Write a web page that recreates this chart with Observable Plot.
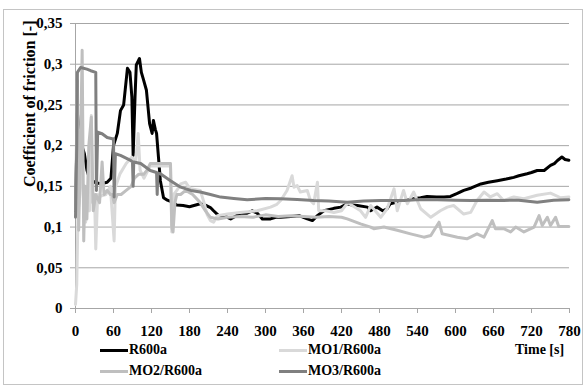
<!DOCTYPE html>
<html>
<head>
<meta charset="utf-8">
<script src="https://cdn.jsdelivr.net/npm/d3@7"></script>
<script src="https://cdn.jsdelivr.net/npm/@observablehq/plot@0.6"></script>
<style>
  html, body { margin: 0; padding: 0; background: #fff; }
  body { width: 585px; height: 387px; position: relative; overflow: hidden;
         font-family: "Liberation Serif", "Times New Roman", serif; font-weight: bold; }
  #frame { position: absolute; left: 3px; top: 9px; width: 580px; height: 376px;
           border: 1px solid #c4c4c4; box-sizing: border-box; }
  #chart { position: absolute; left: 0; top: 0; }
  #chart svg text { fill: #000; font-family: "Liberation Serif", "Times New Roman", serif !important; font-weight: bold; }
  .leg { position: absolute; font-size: 14px; line-height: 16px; color: #000; white-space: nowrap; }
  .sw { position: absolute; height: 3px; width: 28px; }
</style>
</head>
<body>
<div id="frame"></div>
<div id="chart"></div>
<script>
// ---- data (time [s], coefficient of friction [-]) ----
const seriesNames = ["R600a", "MO1/R600a", "MO2/R600a", "MO3/R600a"];
const seriesColors = ["#000000", "#d9d9d9", "#bfbfbf", "#808080"];
const xTicks = [0, 60, 120, 180, 240, 300, 360, 420, 480, 540, 600, 660, 720, 780];
const yTicks = [0, 0.05, 0.1, 0.15, 0.2, 0.25, 0.3, 0.35];

const R600a = [[0,0.12],[3,0.24],[6,0.215],[10,0.2],[14,0.19],[18,0.17],[22,0.16],[30,0.155],[40,0.153],[50,0.155],[56,0.16],[60,0.2],[66,0.215],[71,0.243],[76,0.25],[82,0.295],[86,0.29],[89,0.26],[91,0.188],[94,0.26],[96,0.299],[101,0.307],[104,0.29],[107,0.282],[112,0.268],[117,0.227],[121,0.215],[123,0.231],[126,0.22],[128,0.215],[131,0.186],[134,0.157],[139,0.136],[145,0.133],[155,0.13],[160,0.127],[170,0.1265],[180,0.125],[197,0.1286],[205,0.127],[213,0.124],[218,0.12],[226,0.114],[234,0.114],[245,0.11],[252,0.113],[260,0.117],[271,0.117],[279,0.12],[287,0.117],[295,0.11],[308,0.11],[316,0.112],[324,0.112],[340,0.113],[353,0.114],[360,0.112],[366,0.11],[374,0.108],[382,0.114],[392,0.12],[408,0.123],[419,0.1245],[429,0.1286],[437,0.127],[445,0.1265],[461,0.1245],[466,0.12],[476,0.1245],[485,0.12],[492,0.1225],[497,0.1286],[505,0.13],[513,0.1327],[523,0.133],[534,0.1347],[545,0.136],[555,0.1376],[570,0.137],[582,0.137],[592,0.1376],[602,0.141],[613,0.145],[625,0.148],[640,0.153],[652,0.155],[666,0.157],[680,0.159],[692,0.161],[700,0.163],[713,0.1655],[720,0.167],[729,0.1695],[740,0.1695],[750,0.1757],[756,0.178],[761,0.1818],[768,0.186],[773,0.183],[779,0.182]];

const MO1 = [[0,0.005],[2,0.03],[4,0.12],[6,0.13],[9,0.2],[12,0.14],[16,0.106],[19,0.13],[22,0.12],[25,0.237],[27,0.13],[30,0.14],[32,0.073],[35,0.14],[40,0.138],[48,0.14],[55,0.15],[61,0.083],[63,0.149],[70,0.165],[80,0.178],[89,0.186],[95,0.18],[99,0.215],[102,0.17],[108,0.16],[118,0.175],[130,0.175],[145,0.175],[150,0.175],[152,0.094],[155,0.14],[160,0.145],[166,0.153],[174,0.155],[178,0.15],[182,0.147],[197,0.145],[203,0.13],[208,0.115],[213,0.108],[218,0.106],[224,0.114],[240,0.116],[260,0.118],[287,0.12],[308,0.1245],[318,0.128],[324,0.1327],[334,0.145],[342,0.163],[345,0.149],[350,0.151],[355,0.143],[366,0.145],[371,0.1327],[376,0.1286],[382,0.155],[384,0.12],[395,0.12],[408,0.118],[420,0.12],[430,0.13],[440,0.125],[450,0.12],[458,0.112],[466,0.1265],[482,0.112],[492,0.1225],[503,0.147],[508,0.12],[518,0.145],[524,0.1286],[534,0.143],[545,0.1225],[561,0.112],[576,0.12],[587,0.1245],[597,0.1265],[613,0.116],[624,0.118],[634,0.1327],[645,0.143],[655,0.137],[666,0.141],[676,0.1327],[692,0.137],[708,0.1347],[729,0.139],[750,0.1417],[766,0.136],[779,0.137]];

const MO2 = [[0,0.12],[3,0.28],[5,0.096],[8,0.2],[10.5,0.317],[13,0.083],[15,0.15],[18,0.11],[21,0.2],[25,0.235],[28,0.12],[32,0.14],[38,0.13],[42,0.18],[45,0.14],[50,0.145],[55,0.14],[58,0.14],[61,0.13],[66,0.14],[72,0.14],[80,0.145],[88,0.15],[93,0.16],[100,0.165],[108,0.165],[113,0.17],[118,0.178],[130,0.178],[140,0.178],[150,0.178],[152,0.1],[154,0.094],[157,0.13],[160,0.14],[166,0.14],[174,0.145],[185,0.14],[197,0.13],[205,0.12],[213,0.112],[225,0.11],[240,0.112],[260,0.113],[280,0.112],[300,0.115],[320,0.113],[340,0.114],[360,0.113],[380,0.112],[400,0.113],[420,0.112],[429,0.11],[450,0.104],[466,0.1],[471,0.098],[487,0.1],[508,0.096],[529,0.0917],[550,0.0876],[561,0.0897],[574,0.106],[579,0.0917],[603,0.0876],[618,0.0856],[634,0.0917],[645,0.0876],[658,0.108],[663,0.098],[676,0.098],[687,0.094],[695,0.1],[708,0.094],[724,0.1],[732,0.114],[737,0.102],[745,0.112],[750,0.102],[758,0.112],[763,0.1006],[779,0.1006]];

const MO3 = [[0,0.112],[2,0.2],[3,0.29],[8,0.296],[18,0.294],[24,0.292],[32,0.29],[33,0.145],[35,0.2166],[42,0.2146],[50,0.21],[58,0.2085],[60,0.2085],[61,0.137],[63,0.19],[71,0.188],[87,0.182],[90,0.18],[91,0.15],[92,0.18],[103,0.178],[118,0.1695],[128,0.167],[129,0.14],[130,0.166],[134,0.1655],[150,0.157],[166,0.149],[182,0.145],[197,0.143],[213,0.14],[229,0.1368],[250,0.135],[271,0.1335],[300,0.135],[324,0.1347],[350,0.134],[376,0.1327],[400,0.132],[429,0.1306],[455,0.132],[482,0.1327],[518,0.1327],[545,0.134],[571,0.1335],[600,0.133],[624,0.1327],[650,0.133],[676,0.1327],[700,0.133],[729,0.1306],[755,0.133],[779,0.1335]];

const yLabel = "Coefficient of friction [-]";
const xLabel = "Time [s]";

// ---- build ----
const seriesData = [R600a, MO1, MO2, MO3];
const fmt = d => d === 0 ? "0" : String(+d.toFixed(2)).replace(".", ",");

const lineMarks = seriesData.map((arr, i) =>
  Plot.line(arr, {x: d => d[0], y: d => d[1], stroke: seriesColors[i],
    strokeWidth: 3, strokeLinejoin: "round", strokeLinecap: "round"}));

const chart = Plot.plot({
  width: 585, height: 345,
  marginLeft: 75, marginRight: 16, marginTop: 23, marginBottom: 37,
  style: {fontFamily: "'Liberation Serif', 'Times New Roman', serif", fontWeight: "bold",
          fontSize: "15px", color: "#a6a6a6", background: "transparent", overflow: "visible"},
  x: {domain: [0, 780], ticks: xTicks, label: null, tickSize: 5, tickPadding: 12},
  y: {domain: [0, 0.35], ticks: yTicks, tickFormat: fmt, label: null, tickSize: 5, tickPadding: 8},
  marks: [
    Plot.ruleY(yTicks, {stroke: "#a6a6a6", strokeWidth: 1}),
    Plot.ruleX([0], {stroke: "#a6a6a6", strokeWidth: 1}),
    ...lineMarks,
    Plot.text([yLabel], {text: d => d, frameAnchor: "top-left", dx: -52, dy: -3,
      rotate: -90, textAnchor: "end", fill: "#000", fontSize: 16, fontWeight: "bold"})
  ]
});
document.getElementById("chart").appendChild(chart);

// ---- legend (HTML, below the SVG) ----
const legendPos = [
  {i: 0, x: 100, y: 350}, {i: 1, x: 279, y: 350},
  {i: 2, x: 100, y: 371}, {i: 3, x: 279, y: 371}
];
for (const p of legendPos) {
  const sw = document.createElement("div");
  sw.className = "sw";
  sw.style.left = p.x + "px"; sw.style.top = (p.y - 1.5) + "px";
  sw.style.background = seriesColors[p.i];
  document.body.appendChild(sw);
  const t = document.createElement("div");
  t.className = "leg";
  t.style.left = (p.x + 29) + "px"; t.style.top = (p.y - 8) + "px";
  t.textContent = seriesNames[p.i];
  document.body.appendChild(t);
}
const tl = document.createElement("div");
tl.className = "leg";
tl.style.left = "515px"; tl.style.top = (350 - 8) + "px";
tl.textContent = xLabel;
document.body.appendChild(tl);
</script>
</body>
</html>
